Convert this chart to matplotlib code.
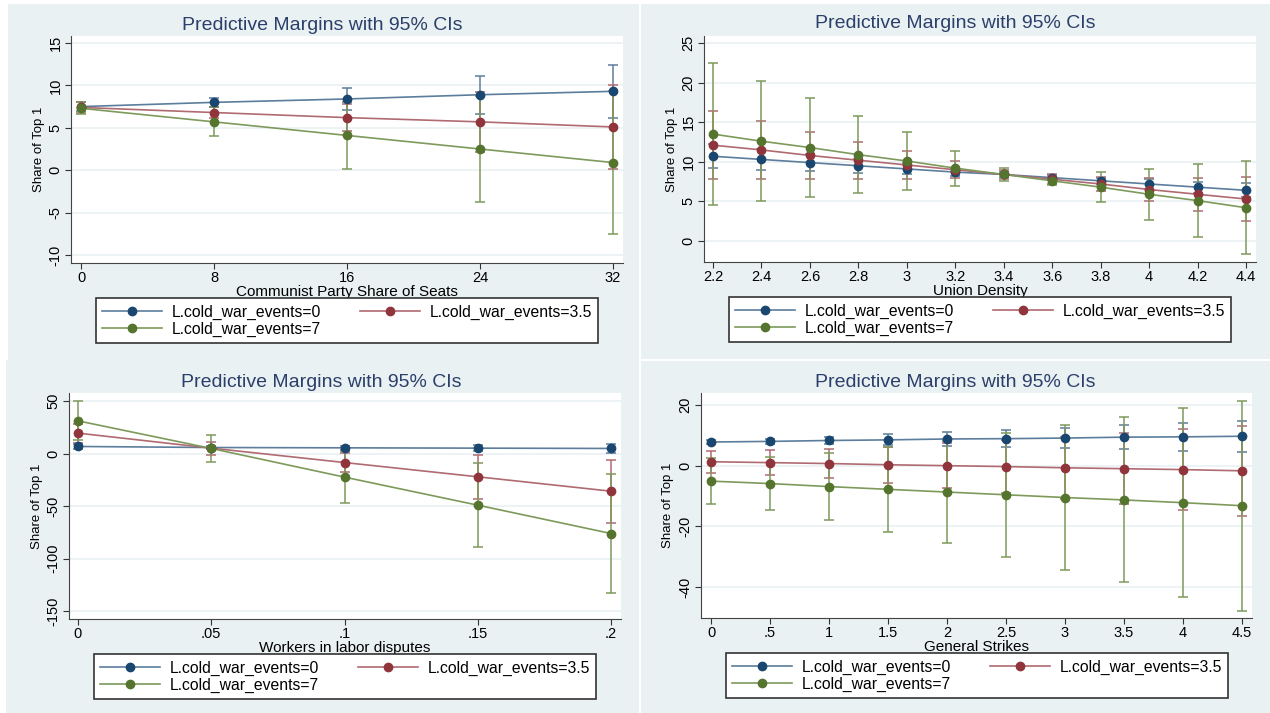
import numpy as np
import matplotlib
matplotlib.use("Agg")
import matplotlib.pyplot as plt
from matplotlib.patches import Rectangle
from matplotlib.lines import Line2D

plt.rcParams['font.family'] = ['Liberation Sans', 'DejaVu Sans']

FIG_W, FIG_H = 1270, 713
BG = '#EAF1F3'
NAVY = '#1A476F'
MAROON = '#90353B'
GREEN = '#55752F'
# the thin connecting lines look paler than the markers
NAVY_L = '#5C7D9C'
MAROON_L = '#B06A71'
GREEN_L = '#7D9A5B'
TITLE = 'Predictive Margins with 95% CIs'
LABELS = ['L.cold_war_events=0', 'L.cold_war_events=3.5', 'L.cold_war_events=7']

# Panel 1: communist party share of seats
seats_x = [0, 8, 16, 24, 32]
seats_m0 = [7.5, 8.0, 8.4, 8.9, 9.3]
seats_m35 = [7.4, 6.8, 6.2, 5.7, 5.1]
seats_m7 = [7.3, 5.7, 4.1, 2.5, 0.9]
seats_ci0 = [0.5, 0.5, 1.35, 2.25, 3.1]
seats_ci35 = [0.7, 0.6, 1.6, 3.5, 4.9]
seats_ci7 = [0.7, 1.7, 3.95, 6.2, 8.4]
seats_yticks = [-10, -5, 0, 5, 10, 15]

# Panel 2: union density
union_x = [2.2, 2.4, 2.6, 2.8, 3.0, 3.2, 3.4, 3.6, 3.8, 4.0, 4.2, 4.4]
union_m0 = [10.7, 10.3, 9.9, 9.5, 9.1, 8.7, 8.4, 8.0, 7.6, 7.2, 6.8, 6.4]
union_m35 = [12.1, 11.5, 10.8, 10.2, 9.6, 9.0, 8.4, 7.8, 7.2, 6.5, 5.9, 5.3]
union_m7 = [13.5, 12.6, 11.8, 10.9, 10.1, 9.2, 8.4, 7.6, 6.8, 5.9, 5.1, 4.2]
union_ci0 = [1.5, 1.3, 1.1, 0.9, 0.7, 0.5, 0.3, 0.3, 0.4, 0.6, 0.7, 0.9]
union_ci35 = [4.3, 3.65, 3.0, 2.35, 1.75, 1.1, 0.6, 0.6, 0.9, 1.5, 2.1, 2.8]
union_ci7 = [9.0, 7.6, 6.2, 4.9, 3.6, 2.2, 0.85, 0.5, 1.9, 3.25, 4.6, 5.9]
union_xticks = [2.2, 2.4, 2.6, 2.8, 3, 3.2, 3.4, 3.6, 3.8, 4, 4.2, 4.4]
union_xlabels = ['2.2', '2.4', '2.6', '2.8', '3', '3.2', '3.4', '3.6', '3.8', '4', '4.2', '4.4']
union_yticks = [0, 5, 10, 15, 20, 25]

# Panel 3: workers in labor disputes
disp_x = [0, 0.05, 0.1, 0.15, 0.2]
disp_m0 = [6.7, 5.7, 5.4, 5.1, 4.8]
disp_m35 = [19.4, 5.1, -8.6, -22.2, -35.9]
disp_m7 = [31.1, 4.8, -22.5, -49.2, -76.2]
disp_ci0 = [2.0, 1.0, 2.0, 3.0, 4.0]
disp_ci35 = [9.0, 6.3, 9.0, 21.0, 30.0]
disp_ci7 = [18.6, 12.7, 24.5, 40.0, 57.0]
disp_xlabels = ['0', '.05', '.1', '.15', '.2']
disp_yticks = [-150, -100, -50, 0, 50]

# Panel 4: general strikes
strike_x = [0, 0.5, 1, 1.5, 2, 2.5, 3, 3.5, 4, 4.5]
strike_m0 = [7.8, 8.0, 8.3, 8.5, 8.8, 8.9, 9.1, 9.4, 9.5, 9.7]
strike_m35 = [1.3, 1.0, 0.7, 0.3, 0.0, -0.3, -0.7, -1.0, -1.3, -1.7]
strike_m7 = [-5.1, -5.9, -6.9, -7.8, -8.7, -9.6, -10.5, -11.3, -12.2, -13.2]
strike_ci0 = [0.5, 0.8, 1.3, 1.8, 2.3, 2.9, 3.4, 4.0, 4.5, 5.1]
strike_ci35 = [3.7, 4.1, 4.9, 6.0, 7.4, 8.8, 10.2, 11.8, 13.3, 14.8]
strike_ci7 = [7.7, 8.6, 11.0, 14.0, 16.7, 20.4, 24.0, 27.2, 31.1, 34.6]
strike_xlabels = ['0', '.5', '1', '1.5', '2', '2.5', '3', '3.5', '4', '4.5']
strike_yticks = [-40, -20, 0, 20]


def fx(px):
    return px / FIG_W


def fy(py):
    return 1 - py / FIG_H


def make_panel(fig, box, xt, yt, x, means, cis, xticks, xlabels, yticks, xlabel,
               legbox, title_xy):
    # box: plot area in pixels (left, top, right, bottom)
    # xt / yt: (value, pixel) for first and last tick, used to set limits
    L, T, R, B = box
    ax = fig.add_axes([fx(L), fy(B), fx(R) - fx(L), fy(T) - fy(B)])
    (xa, pxa), (xb, pxb) = xt
    sx = (xb - xa) / (pxb - pxa)
    ax.set_xlim(xa + (L - pxa) * sx, xb + (R - pxb) * sx)
    (ya, pya), (yb, pyb) = yt
    sy = (yb - ya) / (pyb - pya)
    ax.set_ylim(ya + (B - pya) * sy, ya + (T - pya) * sy)

    handles = []
    for m, ci, col, lcol in zip(means, cis, [NAVY, MAROON, GREEN], [NAVY_L, MAROON_L, GREEN_L]):
        ax.errorbar(x, m, yerr=ci, fmt='none', ecolor=lcol, elinewidth=1.1,
                    capsize=3.5, capthick=1.1, zorder=2)
        ax.plot(x, m, color=lcol, lw=1.2, zorder=3)
        ax.plot(x, m, ls='none', marker='o', ms=6, mfc=col, mec=col, zorder=4)
        handles.append(Line2D([], [], color=lcol, lw=1.2, marker='o', ms=6,
                              mfc=col, mec=col))

    ax.set_facecolor('white')
    for v in yticks:
        ax.axhline(v, color=BG, lw=1.2, zorder=0)
    ax.set_xticks(xticks)
    ax.set_xticklabels(xlabels, fontsize=10.5)
    ax.set_yticks(yticks)
    ax.set_yticklabels([str(v) for v in yticks], fontsize=10.5, rotation=90, va='center')
    ax.tick_params(axis='both', length=4, width=0.8, color='#333333', pad=2)
    ax.spines['top'].set_visible(False)
    ax.spines['right'].set_visible(False)
    ax.spines['left'].set_color('#444444')
    ax.spines['bottom'].set_color('#444444')
    ax.set_xlabel(xlabel, fontsize=11, labelpad=0)
    ax.set_ylabel('Share of Top 1', fontsize=9.5, labelpad=3)
    fig.text(fx(title_xy[0]), fy(title_xy[1]), TITLE, fontsize=14, color='#2B3F6B',
             ha='center', va='center')

    lL, lT, lR, lB = legbox
    leg = fig.legend([handles[0], handles[2], handles[1]],
                     [LABELS[0], LABELS[2], LABELS[1]],
                     ncol=2, mode='expand', fontsize=11.3, handlelength=3.8,
                     borderpad=0.4, labelspacing=0.12, handletextpad=0.6,
                     borderaxespad=0,
                     bbox_to_anchor=(fx(lL), fy(lB), fx(lR) - fx(lL), fy(lT) - fy(lB)),
                     loc='lower left', fancybox=False, framealpha=1)
    leg.get_frame().set_edgecolor('#333333')
    leg.get_frame().set_linewidth(1.2)
    return ax


fig = plt.figure(figsize=(FIG_W / 100, FIG_H / 100), dpi=100)
fig.patch.set_facecolor(BG)

# white separators between the pasted panels
for (x0, y0, w, h) in [(0, 0, 8, 360), (0, 360, 6, 353), (0, 0, 1270, 4),
                       (639, 0, 2, 713), (640, 359, 630, 2)]:
    fig.add_artist(Rectangle((fx(x0), fy(y0 + h)), w / FIG_W, h / FIG_H,
                             transform=fig.transFigure, color='white', lw=0))

make_panel(fig, (71, 36, 623, 263), ((0, 81), (32, 613)), ((15, 43), (-10, 255)),
           seats_x, [seats_m0, seats_m35, seats_m7], [seats_ci0, seats_ci35, seats_ci7],
           seats_x, [str(v) for v in seats_x], seats_yticks,
           'Communist Party Share of Seats', (96, 303, 598, 343), (322, 25))

make_panel(fig, (704, 36, 1256, 262), ((2.2, 713), (4.4, 1246)), ((25, 43), (0, 241)),
           union_x, [union_m0, union_m35, union_m7], [union_ci0, union_ci35, union_ci7],
           union_xticks, union_xlabels, union_yticks,
           'Union Density', (729, 303, 1231, 342), (955, 24))

make_panel(fig, (69, 393, 621, 619), ((0, 78), (0.2, 611)), ((50, 401), (-150, 611)),
           disp_x, [disp_m0, disp_m35, disp_m7], [disp_ci0, disp_ci35, disp_ci7],
           disp_x, disp_xlabels, disp_yticks,
           'Workers in labor disputes', (94, 659, 596, 699), (321, 382))

make_panel(fig, (701, 393, 1252, 618), ((0, 711), (4.5, 1242)), ((20, 405), (-40, 587)),
           strike_x, [strike_m0, strike_m35, strike_m7], [strike_ci0, strike_ci35, strike_ci7],
           strike_x, strike_xlabels, strike_yticks,
           'General Strikes', (726, 658, 1228, 698), (955, 382))

fig.savefig('out.png', dpi=100, facecolor=fig.get_facecolor())
